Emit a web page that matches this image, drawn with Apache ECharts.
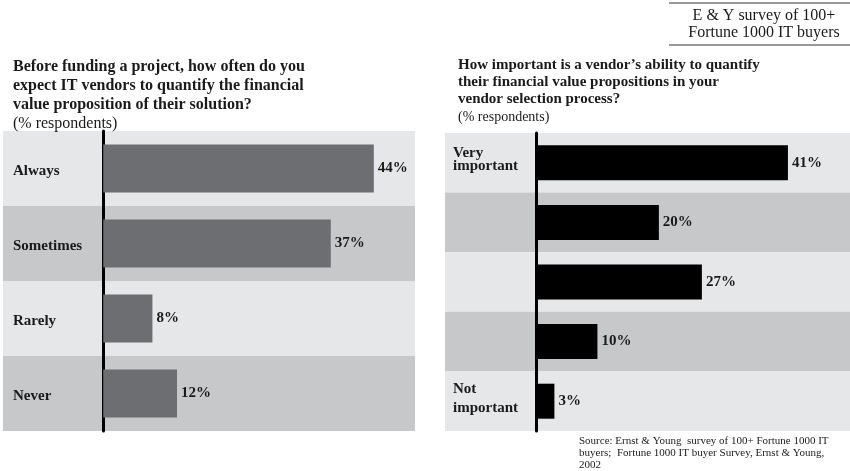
<!DOCTYPE html>
<html><head><meta charset="utf-8">
<script src="https://cdn.jsdelivr.net/npm/echarts@6/dist/echarts.min.js"></script>
<style>html,body{margin:0;padding:0;background:#fff}#c{width:850px;height:471px}</style>
</head><body><div id="c"></div>
<script>
const leftCategories = ['Always', 'Sometimes', 'Rarely', 'Never'];
const leftValues = [44, 37, 8, 12];
const rightCategories = ['Very\nimportant', '', '', '', 'Not\nimportant'];
const rightValues = [41, 20, 27, 10, 3];
const leftTitle = 'Before funding a project, how often do you\nexpect IT vendors to quantify the financial\nvalue proposition of their solution?';
const rightTitle = 'How important is a vendor\u2019s ability to quantify\ntheir financial value propositions in your\nvendor selection process?';
const subTitle = '(% respondents)';
const boxText = 'E & Y survey of 100+\nFortune 1000 IT buyers';
const sourceText = 'Source: Ernst & Young  survey of 100+ Fortune 1000 IT\nbuyers;  Fortune 1000 IT buyer Survey, Ernst & Young,\n2002';

const SERIF = '"Liberation Serif","Times New Roman",serif';
const chart = echarts.init(document.getElementById('c'));
const bandColors = ['#e6e7e9', '#c7c8ca'];
function catAxis(idx, data, labelOpt) {
  return {
    type: 'category', gridIndex: idx, data: data, inverse: true,
    axisLine: { show: true, onZero: true, lineStyle: { color: '#000', width: 3 } },
    axisTick: { show: false },
    splitArea: { show: true, interval: 0, areaStyle: { color: bandColors } },
    axisLabel: Object.assign({ interval: 0, align: 'left', color: '#1a1a1a',
      fontFamily: SERIF, fontWeight: 'bold', fontSize: 15 }, labelOpt)
  };
}
const valLabel = { show: true, position: 'right', distance: 4, formatter: '{c}%',
  fontFamily: SERIF, fontWeight: 'bold', fontSize: 15, color: '#1a1a1a' };

chart.setOption({
  animation: false,
  backgroundColor: '#fff',
  title: [
    { text: leftTitle, subtext: subTitle, left: 13, top: 57, padding: 0, itemGap: 0,
      textStyle: { fontFamily: SERIF, fontWeight: 'bold', fontSize: 16, lineHeight: 19, color: '#1a1a1a' },
      subtextStyle: { fontFamily: SERIF, fontSize: 16, lineHeight: 19, color: '#1a1a1a' } },
    { text: rightTitle, subtext: subTitle, left: 458, top: 57, padding: 0, itemGap: 0,
      textStyle: { fontFamily: SERIF, fontWeight: 'bold', fontSize: 15, lineHeight: 17, color: '#1a1a1a' },
      subtextStyle: { fontFamily: SERIF, fontSize: 14, lineHeight: 18, color: '#1a1a1a' } }
  ],
  grid: [
    { left: 3, top: 131, width: 412, height: 300, containLabel: false, outerBoundsMode: 'none' },
    { left: 445, top: 133, width: 405, height: 298, containLabel: false, outerBoundsMode: 'none' }
  ],
  xAxis: [
    { type: 'value', gridIndex: 0, min: -16.3, max: 50.7, show: false, splitLine: { show: false } },
    { type: 'value', gridIndex: 1, min: -14.8, max: 51.1, show: false, splitLine: { show: false } }
  ],
  yAxis: [
    catAxis(0, leftCategories, { margin: -10,
      formatter: function (v) { return '{c|' + v + '}'; },
      rich: { c: { fontFamily: SERIF, fontWeight: 'bold', fontSize: 15, lineHeight: 18, padding: [5, 0, 0, 0], color: '#1a1a1a' } } }),
    catAxis(1, rightCategories, { margin: -8, padding: [0, 0, 6, 0],
      formatter: function (v, i) {
        if (!v) return '';
        const parts = v.split('\n');
        const s = i === 0 ? 'a' : 'b';
        return parts.map(p => '{' + s + '|' + p + '}').join('\n');
      },
      rich: {
        a: { fontFamily: SERIF, fontWeight: 'bold', fontSize: 15, lineHeight: 13, color: '#1a1a1a' },
        b: { fontFamily: SERIF, fontWeight: 'bold', fontSize: 15, lineHeight: 19, color: '#1a1a1a' }
      } })
  ],
  series: [
    { type: 'bar', xAxisIndex: 0, yAxisIndex: 0, data: leftValues, barWidth: 48,
      itemStyle: { color: '#6d6e71' }, label: valLabel },
    { type: 'bar', xAxisIndex: 1, yAxisIndex: 1, data: rightValues, barWidth: 35,
      itemStyle: { color: '#000' }, label: valLabel }
  ],
  graphic: [
    { type: 'line', shape: { x1: 669, y1: 3, x2: 850, y2: 3 }, style: { stroke: '#333', lineWidth: 1 } },
    { type: 'line', shape: { x1: 669, y1: 45, x2: 850, y2: 45 }, style: { stroke: '#333', lineWidth: 1 } },
    { type: 'text', x: 764, y: 7, style: { text: boxText, textAlign: 'center', textVerticalAlign: 'top',
      font: '16px ' + SERIF, lineHeight: 17, fill: '#1a1a1a' } },
    { type: 'text', x: 579, y: 435, style: { text: sourceText, textAlign: 'left', textVerticalAlign: 'top',
      font: '11px ' + SERIF, lineHeight: 12, fill: '#1a1a1a' } }
  ]
});
</script></body></html>
